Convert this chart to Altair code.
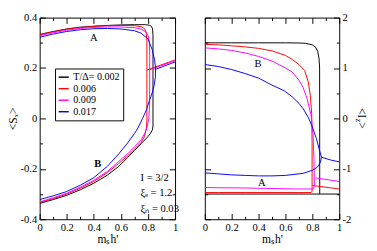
import altair as alt
import pandas as pd

FONT = "Liberation Serif"
SERIES = ["T/Δ= 0.002", "0.006", "0.009", "0.017"]
COLORS = ["#000000", "#ff0000", "#ff00ff", "#0000ff"]

X_VALUES = [0, 0.2, 0.4, 0.6, 0.8, 1]
X_MINOR = [0.1, 0.3, 0.5, 0.7, 0.9]
SX_VALUES = [-0.4, -0.2, 0, 0.2, 0.4]
SX_MINOR = [-0.3, -0.1, 0.1, 0.3]
IZ_VALUES = [-2, -1, 0, 1, 2]
IZ_MINOR = [-1.5, -0.5, 0.5, 1.5]

# ---- left panel <S_x>: branch A, jump, branch B back to x = 0 ----
SX_K_X = [0, 0.1, 0.2, 0.3, 0.4, 0.5, 0.6, 0.7, 0.78, 0.81, 0.826, 0.834, 0.837, 0.837, 0.833, 0.82, 0.8, 0.75, 0.7, 0.65, 0.585, 0.5, 0.4, 0.3, 0.2, 0.1, 0]
SX_K_Y = [0.333, 0.345, 0.355, 0.362, 0.366, 0.369, 0.371, 0.372, 0.372, 0.37, 0.365, 0.355, 0.33, -0.03, -0.045, -0.058, -0.072, -0.1, -0.127, -0.155, -0.19, -0.225, -0.257, -0.283, -0.305, -0.322, -0.337]
SX_R_X = [0, 0.1, 0.2, 0.3, 0.4, 0.5, 0.6, 0.7, 0.75, 0.775, 0.786, 0.792, 0.792, 0.788, 0.775, 0.75, 0.7, 0.65, 0.585, 0.5, 0.4, 0.3, 0.2, 0.1, 0]
SX_R_Y = [0.332, 0.344, 0.354, 0.361, 0.365, 0.368, 0.369, 0.368, 0.364, 0.356, 0.343, 0.31, -0.01, -0.04, -0.07, -0.095, -0.122, -0.148, -0.178, -0.215, -0.25, -0.277, -0.3, -0.318, -0.333]
SX_M_X = [0, 0.1, 0.2, 0.3, 0.4, 0.5, 0.6, 0.7, 0.75, 0.78, 0.8, 0.81, 0.813, 0.812, 0.806, 0.795, 0.78, 0.75, 0.7, 0.65, 0.585, 0.5, 0.4, 0.3, 0.2, 0.1, 0]
SX_M_Y = [0.328, 0.34, 0.35, 0.357, 0.361, 0.363, 0.363, 0.36, 0.354, 0.345, 0.33, 0.305, 0.25, 0.05, 0.0, -0.03, -0.055, -0.085, -0.113, -0.14, -0.17, -0.21, -0.245, -0.273, -0.297, -0.315, -0.331]
SX_B_X = [0, 0.1, 0.2, 0.3, 0.4, 0.5, 0.6, 0.7, 0.75, 0.8, 0.83, 0.848, 0.856, 0.855, 0.845, 0.83, 0.81, 0.79, 0.76, 0.726, 0.7, 0.65, 0.585, 0.5, 0.4, 0.3, 0.2, 0.1, 0]
SX_B_Y = [0.322, 0.335, 0.345, 0.352, 0.356, 0.357, 0.355, 0.348, 0.338, 0.315, 0.275, 0.235, 0.2, 0.165, 0.13, 0.1, 0.07, 0.036, 0.0, -0.038, -0.06, -0.097, -0.14, -0.19, -0.235, -0.265, -0.29, -0.307, -0.322]
# high-field branches
SX_R_SEG_X = [0.792, 1]
SX_R_SEG_Y = [0.192, 0.232]
SX_M_SEG_X = [0.813, 1]
SX_M_SEG_Y = [0.193, 0.229]
SX_B_SEG_X = [0.856, 1]
SX_B_SEG_Y = [0.195, 0.224]

# ---- right panel <I_z> ----
IZ_K_X = [0, 0.2, 0.4, 0.6, 0.7, 0.75, 0.8, 0.825, 0.84, 0.85, 0.854, 0.855]
IZ_K_Y = [1.5, 1.5, 1.5, 1.5, 1.497, 1.49, 1.46, 1.41, 1.33, 1.18, 1.0, -1.5]
IZ_K_LOW_X = [0, 1]
IZ_K_LOW_Y = [-1.5, -1.5]
IZ_R_X = [0, 0.1, 0.2, 0.3, 0.4, 0.5, 0.6, 0.65, 0.7, 0.743, 0.77, 0.785, 0.795, 0.798, 0.798, 0.79, 0.7, 0.5, 0.3, 0.1, 0]
IZ_R_Y = [1.47, 1.46, 1.44, 1.42, 1.39, 1.34, 1.25, 1.17, 1.07, 0.95, 0.72, 0.45, 0.1, -0.5, -1.45, -1.47, -1.47, -1.47, -1.47, -1.47, -1.47]
IZ_M_X = [0, 0.1, 0.2, 0.3, 0.4, 0.5, 0.6, 0.65, 0.7, 0.73, 0.76, 0.79, 0.805, 0.812, 0.815, 0.81, 0.79, 0.7, 0.5, 0.3, 0.1, 0]
IZ_M_Y = [1.4, 1.38, 1.35, 1.3, 1.23, 1.14, 1.0, 0.92, 0.76, 0.62, 0.4, 0.07, -0.3, -0.8, -1.33, -1.39, -1.4, -1.4, -1.39, -1.38, -1.375, -1.37]
IZ_B_X = [0, 0.1, 0.2, 0.3, 0.4, 0.5, 0.59, 0.65, 0.7, 0.73, 0.77, 0.8, 0.83, 0.85, 0.868, 0.86, 0.837, 0.8, 0.73, 0.6, 0.5, 0.4, 0.3, 0.2, 0.1, 0]
IZ_B_Y = [1.07, 1.03, 0.97, 0.89, 0.8, 0.66, 0.55, 0.43, 0.3, 0.2, 0.02, -0.17, -0.4, -0.6, -0.77, -0.87, -0.967, -1.03, -1.09, -1.13, -1.14, -1.14, -1.13, -1.12, -1.1, -1.08]
IZ_R_SEG_X = [0.8, 1]
IZ_R_SEG_Y = [-1.33, -1.4]
IZ_M_SEG_X = [0.825, 1]
IZ_M_SEG_Y = [-1.18, -1.25]
IZ_B_SEG_X = [0.868, 0.943, 1]
IZ_B_SEG_Y = [-0.77, -0.83, -0.86]

# annotations
SX_TEXT = ["A", "I = 3/2", "ξₑ = 1.2", "ξₙ = 0.03"]
SX_TEXT_X = [0.372, 0.745, 0.745, 0.745]
SX_TEXT_Y = [0.317, -0.236, -0.296, -0.358]
SX_BOLD_TEXT = ["B"]
SX_BOLD_X = [0.403]
SX_BOLD_Y = [-0.18]
IZ_TEXT = ["B", "A"]
IZ_TEXT_X = [0.37, 0.396]
IZ_TEXT_Y = [1.08, -1.29]
IZ_TITLE = ["<I", "z", ">"]

W1, W2, H = 141, 140, 210


def paths(items):
    recs = []
    for series, branch, xs, ys in items:
        for i, (x, y) in enumerate(zip(xs, ys)):
            recs.append({"x": x, "y": y, "series": series, "branch": branch, "order": i})
    return pd.DataFrame(recs)


left_df = paths([
    (SERIES[0], "k", SX_K_X, SX_K_Y),
    (SERIES[1], "r", SX_R_X, SX_R_Y),
    (SERIES[1], "rs", SX_R_SEG_X, SX_R_SEG_Y),
    (SERIES[2], "m", SX_M_X, SX_M_Y),
    (SERIES[2], "ms", SX_M_SEG_X, SX_M_SEG_Y),
    (SERIES[3], "b", SX_B_X, SX_B_Y),
    (SERIES[3], "bs", SX_B_SEG_X, SX_B_SEG_Y),
])
right_df = paths([
    (SERIES[0], "k", IZ_K_X, IZ_K_Y),
    (SERIES[0], "kl", IZ_K_LOW_X, IZ_K_LOW_Y),
    (SERIES[1], "r", IZ_R_X, IZ_R_Y),
    (SERIES[1], "rs", IZ_R_SEG_X, IZ_R_SEG_Y),
    (SERIES[2], "m", IZ_M_X, IZ_M_Y),
    (SERIES[2], "ms", IZ_M_SEG_X, IZ_M_SEG_Y),
    (SERIES[3], "b", IZ_B_X, IZ_B_Y),
    (SERIES[3], "bs", IZ_B_SEG_X, IZ_B_SEG_Y),
])

xscale = alt.Scale(domain=[0, 1], nice=False, zero=False)
sxscale = alt.Scale(domain=[-0.4, 0.4], nice=False, zero=False)
izscale = alt.Scale(domain=[-2, 2], nice=False, zero=False)
color_scale = alt.Scale(domain=SERIES, range=COLORS)


def tick_axis(orient, values, size):
    return alt.Axis(orient=orient, values=values, tickSize=size, offset=-size, labels=False,
                    domain=False, grid=False, ticks=True, tickColor="black", tickWidth=1, title=None)


def label_axis(orient, values, title=None):
    kw = dict(orient=orient, values=values, ticks=False, domain=False, grid=False,
              labelExpr="'' + datum.value", labelFont=FONT, labelFontSize=11, labelColor="black",
              labelPadding=3, labelFlush=False, labelOverlap=False, labelBound=False,
              titleFont=FONT, titleFontSize=12, titleFontWeight="normal", titleColor="black",
              titlePadding=1)
    kw["title"] = title
    return alt.Axis(**kw)


def tick_layers(df, yscale, ymajor, yminor):
    layers = []
    for xo, yo, xv, yv, s in [("bottom", "left", X_VALUES, ymajor, 6),
                              ("top", "right", X_VALUES, ymajor, 6),
                              ("bottom", "left", X_MINOR, yminor, 3),
                              ("top", "right", X_MINOR, yminor, 3)]:
        layers.append(alt.Chart(df).mark_point(opacity=0).encode(
            x=alt.X("x:Q", scale=xscale, axis=tick_axis(xo, xv, s)),
            y=alt.Y("y:Q", scale=yscale, axis=tick_axis(yo, yv, s)),
        ))
    return layers


def text_layer(xs, ys, texts, yscale, **mark):
    return alt.Chart(pd.DataFrame({"x": xs, "y": ys, "t": texts})).mark_text(
        font=FONT, fontSize=11, align="left", baseline="middle", color="black", **mark
    ).encode(x=alt.X("x:Q", scale=xscale, axis=None), y=alt.Y("y:Q", scale=yscale, axis=None), text="t:N")


legend = alt.Legend(orient="none", legendX=16, legendY=53, direction="vertical", title=None,
                    symbolType="stroke", symbolSize=110, symbolStrokeWidth=1.5,
                    strokeColor="black", fillColor="white", padding=3,
                    labelFont=FONT, labelFontSize=10.5, labelColor="black",
                    rowPadding=0, labelOffset=4)

left_lines = alt.Chart(left_df).mark_line(strokeWidth=1, clip=True).encode(
    x=alt.X("x:Q", scale=xscale, axis=label_axis("bottom", X_VALUES, "mₛh'")),
    y=alt.Y("y:Q", scale=sxscale, axis=label_axis("left", SX_VALUES, "<Sₓ>")),
    color=alt.Color("series:N", scale=color_scale, legend=legend),
    detail="branch:N",
    order="order:Q",
)

left = alt.layer(
    left_lines,
    *tick_layers(left_df, sxscale, SX_VALUES, SX_MINOR),
    text_layer(SX_TEXT_X, SX_TEXT_Y, SX_TEXT, sxscale),
    text_layer(SX_BOLD_X, SX_BOLD_Y, SX_BOLD_TEXT, sxscale, fontWeight="bold"),
).resolve_axis(x="independent", y="independent").properties(width=W1, height=H)

right_lines = alt.Chart(right_df).mark_line(strokeWidth=1, clip=True).encode(
    x=alt.X("x:Q", scale=xscale, axis=label_axis("bottom", X_VALUES, "mₛh'")),
    y=alt.Y("y:Q", scale=izscale, axis=label_axis("right", IZ_VALUES, None)),
    color=alt.Color("series:N", scale=color_scale, legend=None),
    detail="branch:N",
    order="order:Q",
)

title_df = pd.DataFrame({"t": IZ_TITLE})
t1 = alt.Chart(title_df[title_df.t == IZ_TITLE[0]]).mark_text(
    font=FONT, fontSize=12, angle=90, align="left", baseline="alphabetic", color="black"
).encode(text="t:N", x=alt.value(W2 + 20), y=alt.value(H / 2 - 11))
t2 = alt.Chart(title_df[title_df.t == IZ_TITLE[1]]).mark_text(
    font=FONT, fontSize=9, angle=90, align="left", baseline="alphabetic", color="black"
).encode(text="t:N", x=alt.value(W2 + 17), y=alt.value(H / 2 + 0))
t3 = alt.Chart(title_df[title_df.t == IZ_TITLE[2]]).mark_text(
    font=FONT, fontSize=12, angle=90, align="left", baseline="alphabetic", color="black"
).encode(text="t:N", x=alt.value(W2 + 20), y=alt.value(H / 2 + 4))

right = alt.layer(
    right_lines,
    *tick_layers(right_df, izscale, IZ_VALUES, IZ_MINOR),
    text_layer(IZ_TEXT_X, IZ_TEXT_Y, IZ_TEXT, izscale),
    t1, t2, t3,
).resolve_axis(x="independent", y="independent").properties(width=W2, height=H)

chart = alt.hconcat(left, right, spacing=22).properties(
    padding={"left": -2, "top": -2, "right": 0, "bottom": 0}
).configure_view(stroke="black", strokeWidth=1)

chart.save("out.html", embed_options={"renderer": "svg", "actions": False})
